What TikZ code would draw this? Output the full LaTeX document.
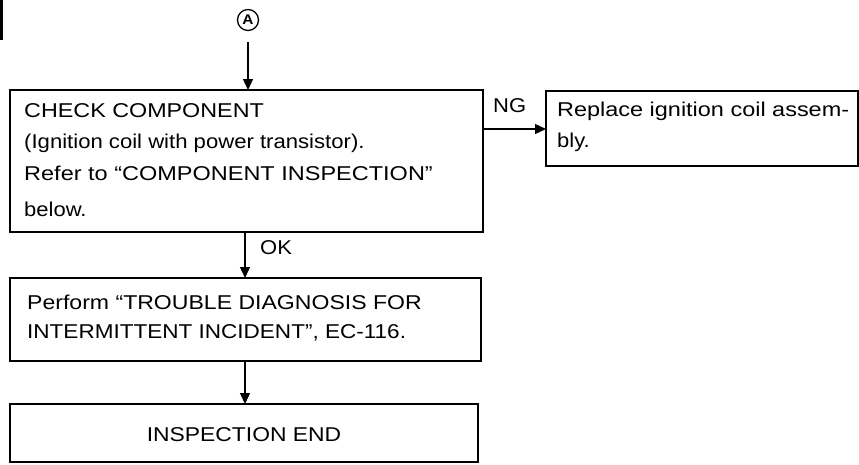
\documentclass[tikz,border=0pt]{standalone}
\usepackage{fontspec}
\setmainfont{Liberation Sans}[FakeStretch=1.1]
\usetikzlibrary{arrows.meta}
\newcommand{\hsx}[2]{\scalebox{#1}[1]{#2}}
\begin{document}
\begin{tikzpicture}[x=1pt,y=-1pt,
  box/.style={draw,line width=1.3pt},
  txt/.style={anchor=base west,inner sep=0pt,font=\fontsize{20}{30}\selectfont},
  conn/.style={line width=1.3pt,-{Triangle[length=11pt,width=10pt]}},
  lbl/.style={inner sep=0pt,font=\fontsize{20}{24}\selectfont}]
\useasboundingbox (0,0) rectangle (859,464);
\draw[line width=3pt] (1.5,0) -- (1.5,40);
\node[draw,circle,line width=1.3pt,inner sep=0pt,minimum size=21pt,font=\fontsize{14}{14}\selectfont\bfseries] (A) at (248,20) {A};
\draw[box] (10,90) rectangle (483,232);
\node[txt] (t1) at (24,117) {\hsx{1.06}{CHECK COMPONENT}};
\node[txt] (t2) at (24,148) {\hsx{1.005}{(Ignition coil with power transistor).}};
\node[txt] (t3) at (24,180) {\hsx{1.068}{Refer to “COMPONENT INSPECTION”}};
\node[txt] (t4) at (24,216) {below.};
\coordinate (b1top) at (248,90);
\coordinate (b1right) at (483,129);
\coordinate (b1bot) at (245,232);
\draw[box] (546,91) rectangle (858,166);
\node[txt] (r1) at (557,116) {\hsx{1.066}{Replace ignition coil assem-}};
\node[txt] (r2) at (557,147) {bly.};
\coordinate (b2left) at (546,129);
\draw[box] (10,278) rectangle (481,361);
\node[txt] (p1) at (27,309) {\hsx{1.048}{Perform “TROUBLE DIAGNOSIS FOR}};
\node[txt] (p2) at (27,338) {\hsx{1.024}{INTERMITTENT INCIDENT”, EC-116.}};
\coordinate (b3top) at (245,278);
\coordinate (b3bot) at (245,361);
\draw[box] (10,404) rectangle (478,462);
\node[lbl,anchor=base] (e) at (244,441) {\hsx{1.04}{INSPECTION END}};
\coordinate (b4top) at (245,404);
\coordinate (aa) at (248,42);
\draw[conn] (aa) -- (b1top);
\draw[conn] (b1right) -- (b2left);
\node[lbl,anchor=base west] (ng) at (493,112) {NG};
\draw[conn] (b1bot) -- (b3top);
\node[lbl,anchor=base west] (ok) at (260,254) {OK};
\draw[conn] (b3bot) -- (b4top);
\end{tikzpicture}
\end{document}
